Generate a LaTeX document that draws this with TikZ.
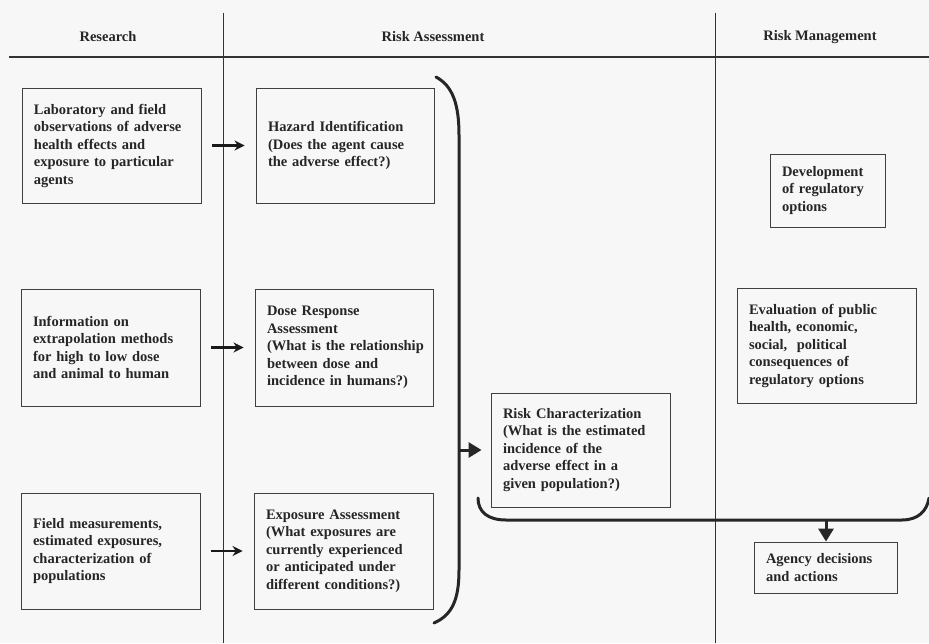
\documentclass[tikz,border=0pt]{standalone}
\usepackage{fontspec}
\setmainfont{Liberation Serif}
\usetikzlibrary{arrows.meta}
\hyphenpenalty=10000
\exhyphenpenalty=10000
\begin{document}
\begin{tikzpicture}[x=1pt,y=-1pt,
  rule/.style={draw=black!80, line width=0.8pt},
  headrule/.style={draw=black!80, line width=1.4pt},
  heading/.style={font=\fontsize{14.5}{17.5}\selectfont\bfseries, text=black!85, inner sep=0pt},
  stage/.style={draw=black!75, line width=0.9pt, align=left, inner xsep=12pt, inner ysep=0pt,
    font=\fontsize{14.5}{17.5}\selectfont\bfseries, text=black!85},
  wide/.style={stage, text width=155pt},
  feed/.style={draw=black!90, line width=2.6pt, -{Stealth[length=10pt,width=10pt]},
    shorten <=11pt, shorten >=11pt},
  brace/.style={draw=black!85, line width=3pt, line cap=round},
  bigarrow/.style={draw=black!85, line width=3pt, -{Triangle[length=13pt,width=15pt]}}
]
% page
\fill[black!3] (0,0) rectangle (929,643);
\useasboundingbox (0,0) rectangle (929,643);

% column rules and headings
\draw[headrule] (9,57) -- (929,57);
\draw[rule] (223,13) -- (223,643);
\draw[rule] (715,13) -- (715,643);
\node[heading] (hres) at (108,37) {Research};
\node[heading] (hass) at (433,37) {Risk Assessment};
\node[heading] (hman) at (820,37) {Risk Management};

% research column
\node[wide, minimum height=115pt] (lab) at (111.5,145.5)
  {Laboratory and field\\observations of adverse\\health effects and\\exposure to particular\\agents};
\node[wide, minimum height=117pt] (info) at (110.5,347.5)
  {Information on\\extrapolation methods\\for high to low dose\\and animal to human};
\node[wide, minimum height=116pt] (field) at (110.5,551)
  {Field measurements,\\estimated exposures,\\characterization of\\populations};

% risk assessment column
\node[stage, text width=154pt, minimum height=115pt] (haz) at (345,145.5)
  {Hazard Identification\\(Does the agent cause\\the adverse effect?)};
\node[stage, text width=154pt, minimum height=117pt] (dose) at (344,347.5)
  {Dose Response\\Assessment\\\mbox{(What is the relationship}\\between dose and\\incidence in humans?)};
\node[stage, text width=155pt, minimum height=116pt] (expo) at (343.5,551)
  {Exposure Assessment\\(What exposures are\\currently experienced\\or anticipated under\\different conditions?)};
\node[wide, minimum height=114pt] (rc) at (580.5,450)
  {Risk Characterization\\(What is the estimated\\incidence of the\\adverse effect in a\\given population?)};

% risk management column
\node[stage, text width=91pt, minimum height=73pt] (dev) at (827.5,190.5)
  {Development\\of regulatory\\options};
\node[wide, minimum height=115pt] (eval) at (826.5,345.5)
  {Evaluation of public\\health, economic,\\social,\ \ political\\consequences of\\regulatory options};
\node[stage, text width=119pt, minimum height=51pt] (agency) at (825.5,567.5)
  {Agency decisions\\and actions};

% research feeds each assessment step
\draw[feed] (lab) -- (haz);
\draw[feed] (info) -- (dose);
\draw[feed] (field) -- (expo);

% brace gathering the three assessment steps
\draw[brace] (436,77) .. controls (453,86) and (459,105) .. (459,135)
  -- (459,570) .. controls (459,600) and (452,615) .. (434,623);
\coordinate (gather) at (459,450);
\draw[bigarrow, shorten >=9pt] (gather) -- (rc.west);

% brace gathering characterization and management options
\draw[brace] (478,498) .. controls (478,512) and (488,520) .. (506,520)
  -- (902,520) .. controls (918,520) and (927,511) .. (929,498);
\coordinate (join) at (826,520);
\draw[bigarrow] (join) -- (join |- agency.north);
\end{tikzpicture}
\end{document}
